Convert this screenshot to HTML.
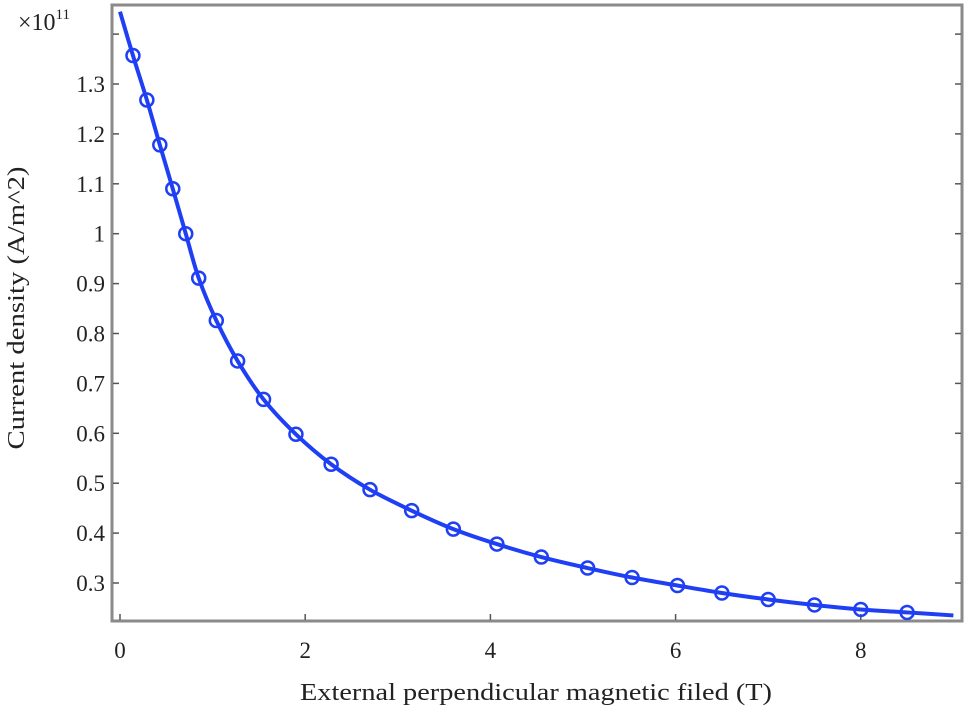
<!DOCTYPE html>
<html><head><meta charset="utf-8"><style>
html,body{margin:0;padding:0;background:#fff;}
svg text{font-family:"Liberation Serif",serif;fill:#222;}
</style></head><body>
<svg id="chart" width="968" height="717" viewBox="0 0 968 717">
<rect x="112" y="5" width="850" height="616" fill="#fff" stroke="#8a8a8a" stroke-width="3"/>
<g id="axes"></g>
<path id="curve" fill="none" stroke="#1f3ff5" stroke-width="4"/>
<g id="markers"></g>
<text x="18" y="30" font-size="24">×10<tspan font-size="15" dy="-11">11</tspan></text>
<text transform="translate(24,308) rotate(-90)" text-anchor="middle" font-size="24" textLength="283" lengthAdjust="spacingAndGlyphs">Current density (A/m^2)</text>
<text x="536" y="700" text-anchor="middle" font-size="24" textLength="472" lengthAdjust="spacingAndGlyphs">External perpendicular magnetic filed (T)</text>
</svg>
<script>
const xTicks = [0, 2, 4, 6, 8];
const yTicks = [0.3, 0.4, 0.5, 0.6, 0.7, 0.8, 0.9, 1, 1.1, 1.2, 1.3, 1.4];
const yTickLabels = ["0.3","0.4","0.5","0.6","0.7","0.8","0.9","1","1.1","1.2","1.3",""];
const markerX = [0.14,0.29,0.43,0.57,0.71,0.85,1.04,1.27,1.55,1.9,2.28,2.7,3.15,3.6,4.07,4.55,5.05,5.53,6.02,6.5,7.0,7.5,8.0,8.5];
const markerY = [1.357,1.268,1.178,1.09,1.0,0.911,0.826,0.745,0.668,0.598,0.538,0.487,0.445,0.408,0.378,0.352,0.33,0.311,0.295,0.28,0.267,0.256,0.247,0.241];
const curveX = [0.0,0.14,0.29,0.43,0.57,0.71,0.85,1.04,1.27,1.55,1.9,2.28,2.7,3.15,3.6,4.07,4.55,5.05,5.53,6.02,6.5,7.0,7.5,8.0,8.5,9.0];
const curveY = [1.445,1.357,1.268,1.178,1.09,1.0,0.911,0.826,0.745,0.668,0.598,0.538,0.487,0.445,0.408,0.378,0.352,0.33,0.311,0.295,0.28,0.267,0.256,0.247,0.241,0.235];

const NS = "http://www.w3.org/2000/svg";
function sx(v){ return 120 + v * 92.6; }
function sy(v){ return 583 - (v - 0.3) * 499; }

const axes = document.getElementById('axes');
xTicks.forEach(t => {
  const l = document.createElementNS(NS,'line');
  l.setAttribute('x1', sx(t)); l.setAttribute('x2', sx(t));
  l.setAttribute('y1', 620); l.setAttribute('y2', 614);
  l.setAttribute('stroke', '#555'); l.setAttribute('stroke-width', '1.5');
  
  
  axes.appendChild(l);
  const tx = document.createElementNS(NS,'text');
  tx.setAttribute('x', sx(t)); tx.setAttribute('y', 658);
  tx.setAttribute('text-anchor', 'middle'); tx.setAttribute('font-size', '23');
  tx.textContent = String(t);
  
  
  axes.appendChild(tx);
});
yTicks.forEach((t, i) => {
  const l = document.createElementNS(NS,'line');
  l.setAttribute('x1', 113); l.setAttribute('x2', 119);
  l.setAttribute('y1', sy(t)); l.setAttribute('y2', sy(t));
  l.setAttribute('stroke', '#555'); l.setAttribute('stroke-width', '1.5');
  
  
  axes.appendChild(l);
  const l2 = document.createElementNS(NS,'line');
  l2.setAttribute('x1', 955); l2.setAttribute('x2', 961);
  l2.setAttribute('y1', sy(t)); l2.setAttribute('y2', sy(t));
  l2.setAttribute('stroke', '#555'); l2.setAttribute('stroke-width', '1.5');
  
  
  axes.appendChild(l2);
  if (yTickLabels[i]) {
    const tx = document.createElementNS(NS,'text');
    tx.setAttribute('x', 105); tx.setAttribute('y', sy(t) + 8);
    tx.setAttribute('text-anchor', 'end'); tx.setAttribute('font-size', '23');
    tx.textContent = yTickLabels[i];
    
    
    axes.appendChild(tx);
  }
});

const pts = curveX.map((x, i) => [sx(x), sy(curveY[i])]);
let d = 'M' + pts[0][0] + ',' + pts[0][1];
for (let i = 0; i < pts.length - 1; i++) {
  const p0 = pts[Math.max(0, i - 1)], p1 = pts[i], p2 = pts[i + 1], p3 = pts[Math.min(pts.length - 1, i + 2)];
  const c1 = [p1[0] + (p2[0] - p0[0]) / 6, p1[1] + (p2[1] - p0[1]) / 6];
  const c2 = [p2[0] - (p3[0] - p1[0]) / 6, p2[1] - (p3[1] - p1[1]) / 6];
  d += ' C' + c1[0] + ',' + c1[1] + ' ' + c2[0] + ',' + c2[1] + ' ' + p2[0] + ',' + p2[1];
}
document.getElementById('curve').setAttribute('d', d);

const mg = document.getElementById('markers');
markerX.forEach((x, i) => {
  const c = document.createElementNS(NS,'circle');
  c.setAttribute('cx', sx(x)); c.setAttribute('cy', sy(markerY[i]));
  c.setAttribute('r', 6.5); c.setAttribute('fill', 'none');
  c.setAttribute('stroke', '#1f3ff5'); c.setAttribute('stroke-width', '2.5');
  
  
  mg.appendChild(c);
});
</script>
</body></html>
